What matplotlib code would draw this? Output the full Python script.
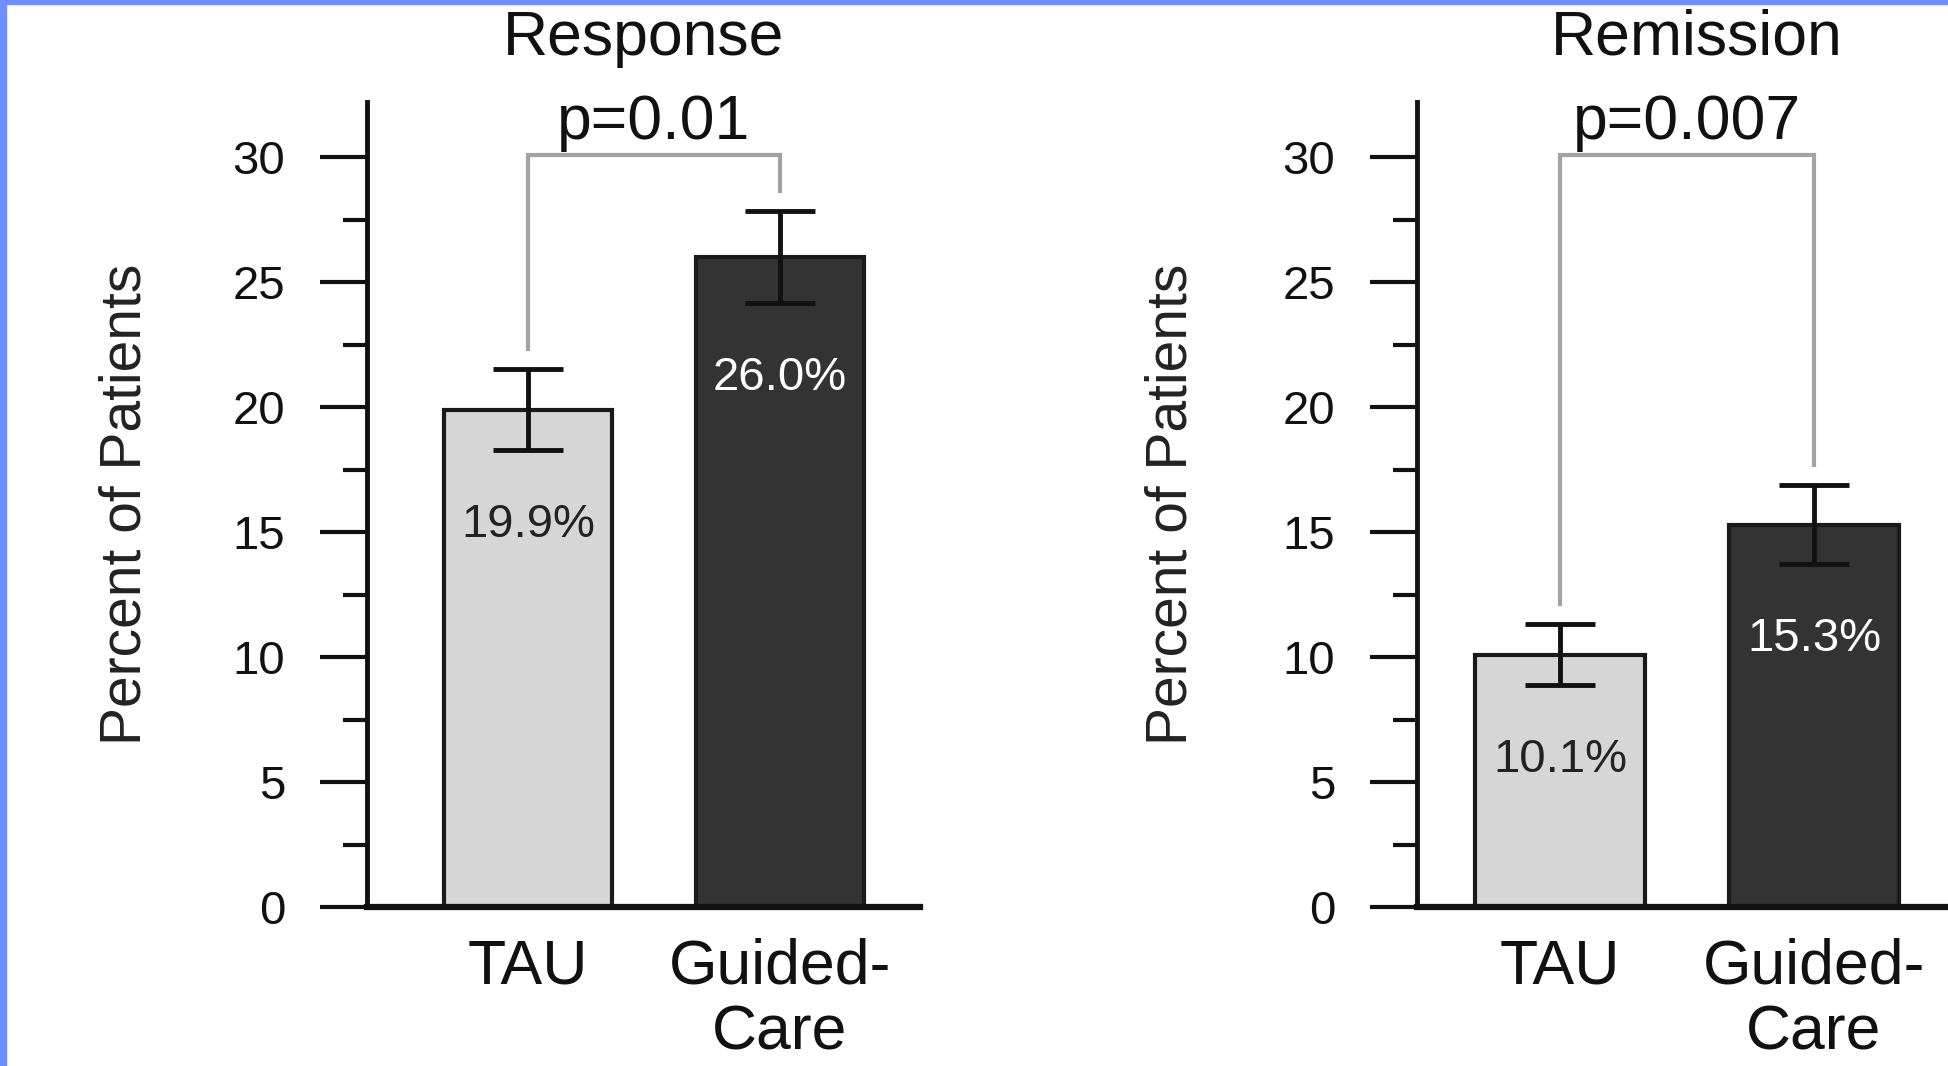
import matplotlib.pyplot as plt
from matplotlib.patches import Rectangle
from matplotlib.ticker import MultipleLocator

plt.rcParams['font.family'] = ['Liberation Sans', 'DejaVu Sans']

# values
groups = ['TAU', 'Guided-\nCare']
titles = ['Response', 'Remission']
response_pct = [19.9, 26.0]
response_err = [1.62, 1.84]
remission_pct = [10.1, 15.3]
remission_err = [1.22, 1.57]
p_labels = ['p=0.01', 'p=0.007']
yticks = [0, 5, 10, 15, 20, 25, 30]

bar_colors = ['#d6d6d6', '#333333']
text_colors = ['#222222', '#ffffff']
grey = '#a3a3a3'

W, H = 1949, 1066
fig = plt.figure(figsize=(W / 100, H / 100), dpi=100)
fig.patch.set_facecolor('white')

# axes boxes in pixels: left, width ; xlim
boxes = [(367, 553, (-0.639, 1.556)), (1417, 560, (-0.563, 1.642))]
ylab_x = [-0.437, -0.439]

panels = [(response_pct, response_err), (remission_pct, remission_err)]
for k, (vals, errs) in enumerate(panels):
    left, width, xl = boxes[k]
    ax = fig.add_axes([left / W, (H - 907) / H, width / W, 805 / H])
    x = list(range(len(groups)))
    ax.bar(x, vals, width=0.67, color=bar_colors, edgecolor='#1a1a1a', linewidth=3, zorder=2)
    ax.errorbar(x, vals, yerr=errs, fmt='none', ecolor='#111111', elinewidth=3.5,
                capsize=25, capthick=3.5, zorder=3)
    # percent labels under the error bars
    for xi, v, e, c in zip(x, vals, errs, text_colors):
        ax.text(xi, v - e - 3.0, f'{v:.1f}%', ha='center', va='center',
                fontsize=34, color=c, zorder=4)
    # significance bracket
    top = 30.1
    ax.plot([0, 0, 1, 1], [vals[0] + errs[0] + 0.8, top, top, vals[1] + errs[1] + 0.8],
            color=grey, lw=3, solid_joinstyle='miter', zorder=1, clip_on=False)
    ax.text(0.5, 30.74, p_labels[k], ha='center', va='baseline', fontsize=45, color='#111111')

    ax.set_xlim(*xl)
    ax.set_ylim(0, 32.2)
    ax.set_yticks(yticks)
    ax.yaxis.set_minor_locator(MultipleLocator(2.5))
    ax.set_xticks(x)
    ax.set_xticklabels(groups, fontsize=45, color='#111111', linespacing=1.15)
    ax.tick_params(axis='x', length=0, pad=22)
    ax.tick_params(axis='y', which='major', length=34, width=3, pad=25,
                   labelsize=34, labelcolor='#111111', color='#111111')
    ax.tick_params(axis='y', which='minor', length=17, width=3, color='#111111')
    for s in ['top', 'right']:
        ax.spines[s].set_visible(False)
    ax.spines['left'].set_linewidth(3.5)
    ax.spines['bottom'].set_linewidth(4.5)
    ax.spines['left'].set_color('#111111')
    ax.spines['bottom'].set_color('#111111')
    ax.set_title(titles[k], fontsize=45, pad=34, color='#111111')
    ax.set_ylabel('Percent of Patients', fontsize=41, color='#222222', va='center')
    ax.yaxis.set_label_coords(ylab_x[k], 0.5)

# blue frame on the left and top edges
fig.add_artist(Rectangle((0, 0), 6 / W, 1, transform=fig.transFigure, color='#6f8ffc', zorder=10))
fig.add_artist(Rectangle((0, 1 - 4 / H), 1, 4 / H, transform=fig.transFigure, color='#6f8ffc', zorder=10))

fig.savefig('out.png', dpi=100)
